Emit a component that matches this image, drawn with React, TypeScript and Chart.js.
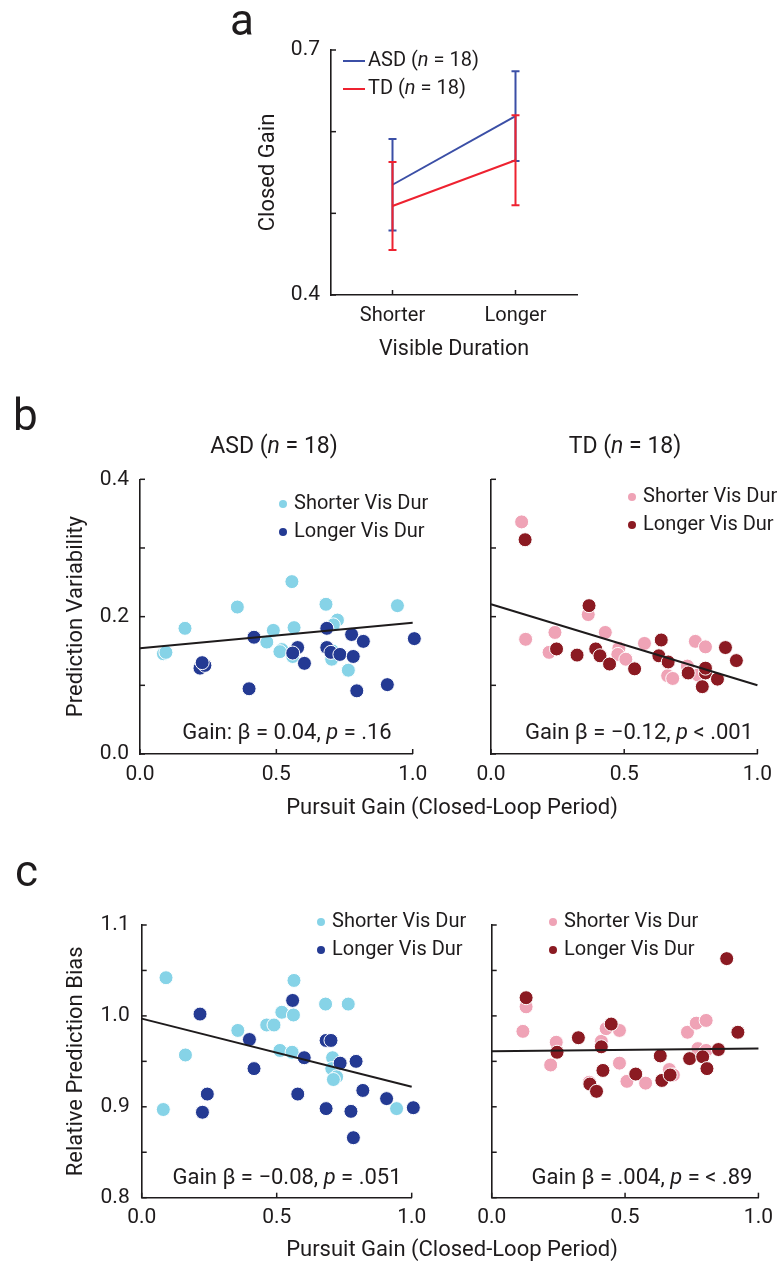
import React, { useEffect, useRef } from "react";
import { Chart, registerables } from "chart.js";
Chart.register(...registerables);

const FONT = "Roboto, 'Liberation Sans', Arial, sans-serif";
const INK = "#1e1b1c";

// ---------- Panel a: closed-loop gain by visible duration ----------
const durationLabels = ["Shorter", "Longer"];
const asdGainMean = [0.535, 0.619];
const asdGainErr = [0.056, 0.055];
const tdGainMean = [0.509, 0.565];
const tdGainErr = [0.054, 0.055];

// ---------- shared x values for regression lines ----------
const fitGain = [0, 1];

// ---------- Panel b: prediction variability vs pursuit gain ----------
const asdVarShorter = [
  [0.086, 0.146], [0.095, 0.148], [0.165, 0.183], [0.357, 0.214], [0.557, 0.251], [0.682, 0.218],
  [0.724, 0.195], [0.709, 0.188], [0.944, 0.216], [0.489, 0.18], [0.565, 0.184], [0.465, 0.163],
  [0.52, 0.152], [0.513, 0.149], [0.56, 0.142], [0.703, 0.138], [0.764, 0.122], [0.706, 0.15],
];
const asdVarLonger = [
  [0.22, 0.125], [0.238, 0.129], [0.228, 0.133], [0.4, 0.095], [0.418, 0.17], [0.578, 0.155],
  [0.56, 0.147], [0.603, 0.132], [0.685, 0.183], [0.685, 0.155], [0.7, 0.148], [0.733, 0.145],
  [0.776, 0.174], [0.819, 0.164], [0.782, 0.142], [0.795, 0.092], [0.907, 0.101], [1.006, 0.168],
];
const asdVarFit = [0.154, 0.191];

const tdVarShorter = [
  [0.115, 0.338], [0.13, 0.167], [0.365, 0.203], [0.24, 0.177], [0.218, 0.148], [0.429, 0.177],
  [0.48, 0.154], [0.476, 0.145], [0.506, 0.138], [0.41, 0.144], [0.576, 0.161], [0.767, 0.164],
  [0.805, 0.156], [0.737, 0.128], [0.8, 0.123], [0.663, 0.114], [0.682, 0.11], [0.777, 0.115],
];
const tdVarLonger = [
  [0.128, 0.312], [0.368, 0.216], [0.246, 0.153], [0.323, 0.144], [0.393, 0.153], [0.409, 0.143],
  [0.445, 0.131], [0.539, 0.124], [0.639, 0.166], [0.63, 0.143], [0.665, 0.134], [0.74, 0.118],
  [0.805, 0.118], [0.793, 0.098], [0.85, 0.109], [0.88, 0.155], [0.921, 0.136], [0.805, 0.125],
];
const tdVarFit = [0.218, 0.1];

// ---------- Panel c: relative prediction bias vs pursuit gain ----------
const asdBiasShorter = [
  [0.09, 1.042], [0.08, 0.897], [0.162, 0.957], [0.356, 0.984], [0.463, 0.99], [0.49, 0.99],
  [0.519, 1.004], [0.562, 1.001], [0.564, 1.039], [0.512, 0.962], [0.557, 0.96], [0.681, 1.013],
  [0.765, 1.013], [0.707, 0.954], [0.704, 0.942], [0.722, 0.933], [0.71, 0.93], [0.944, 0.898],
];
const asdBiasLonger = [
  [0.216, 1.002], [0.243, 0.914], [0.225, 0.894], [0.399, 0.974], [0.416, 0.942], [0.559, 1.017],
  [0.578, 0.914], [0.602, 0.954], [0.683, 0.973], [0.701, 0.973], [0.735, 0.948], [0.794, 0.95],
  [0.683, 0.898], [0.775, 0.895], [0.784, 0.866], [0.819, 0.918], [0.907, 0.909], [1.006, 0.899],
];
const asdBiasFit = [0.997, 0.922];

const tdBiasShorter = [
  [0.129, 1.01], [0.117, 0.983], [0.242, 0.971], [0.221, 0.946], [0.411, 0.972], [0.429, 0.986],
  [0.479, 0.984], [0.479, 0.948], [0.507, 0.928], [0.577, 0.926], [0.366, 0.927], [0.666, 0.941],
  [0.681, 0.935], [0.734, 0.982], [0.767, 0.992], [0.804, 0.995], [0.773, 0.964], [0.804, 0.962],
];
const tdBiasLonger = [
  [0.129, 1.02], [0.245, 0.96], [0.325, 0.976], [0.448, 0.991], [0.411, 0.966], [0.417, 0.94],
  [0.368, 0.925], [0.393, 0.917], [0.54, 0.936], [0.632, 0.956], [0.638, 0.929], [0.669, 0.935],
  [0.742, 0.953], [0.791, 0.955], [0.807, 0.942], [0.85, 0.963], [0.881, 1.063], [0.923, 0.982],
];
const tdBiasFit = [0.961, 0.964];

// ---------- colours ----------
const C = {
  asdLine: "#3b4fa6",
  tdLine: "#ee2230",
  lightBlue: "#86d3e7",
  darkBlue: "#243a93",
  pink: "#efa3b6",
  darkRed: "#8b1a22",
};

Chart.defaults.font.family = FONT;

type Seg = { t: string; i?: boolean };
type RichText = {
  x: number;
  y: number;
  segs: Seg[];
  size: number;
  align?: "left" | "center" | "right";
  rot?: boolean;
  base?: CanvasTextBaseline;
};
type LegendSpec = {
  x: number;
  y: number;
  gap: number;
  kind: "dot" | "line";
  size: number;
  rows: { segs: Seg[]; color: string }[];
};

const fnt = (size: number, italic?: boolean) => `${italic ? "italic " : ""}${size}px ${FONT}`;

function drawRich(ctx: CanvasRenderingContext2D, it: RichText) {
  ctx.save();
  ctx.fillStyle = INK;
  ctx.textBaseline = it.base || "middle";
  ctx.textAlign = "left";
  const widths = it.segs.map((s) => {
    ctx.font = fnt(it.size, s.i);
    return ctx.measureText(s.t).width;
  });
  const total = widths.reduce((a, b) => a + b, 0);
  let x0 = it.align === "center" ? -total / 2 : it.align === "right" ? -total : 0;
  ctx.translate(it.x, it.y);
  if (it.rot) ctx.rotate(-Math.PI / 2);
  it.segs.forEach((s, k) => {
    ctx.font = fnt(it.size, s.i);
    ctx.fillText(s.t, x0, 0);
    x0 += widths[k];
  });
  ctx.restore();
}

function decorPlugin(ox: number, oy: number, texts: RichText[], legend?: LegendSpec) {
  return {
    id: "decor",
    afterDraw(chart: any) {
      const ctx: CanvasRenderingContext2D = chart.ctx;
      const { left, bottom } = chart.chartArea;
      const xs = chart.scales.x;
      const ys = chart.scales.y;
      ctx.save();
      ctx.strokeStyle = INK;
      ctx.lineWidth = 1.5;
      xs.ticks.forEach((_: any, i: number) => {
        const px = xs.getPixelForTick(i);
        ctx.beginPath();
        ctx.moveTo(px, bottom);
        ctx.lineTo(px, bottom - 5);
        ctx.stroke();
      });
      ys.ticks.forEach((_: any, i: number) => {
        const py = ys.getPixelForTick(i);
        ctx.beginPath();
        ctx.moveTo(left, py);
        ctx.lineTo(left + 5, py);
        ctx.stroke();
      });
      ctx.restore();
      if (legend) {
        legend.rows.forEach((r, k) => {
          const y = legend.y - oy + k * legend.gap;
          const x = legend.x - ox;
          ctx.save();
          if (legend.kind === "dot") {
            ctx.fillStyle = r.color;
            ctx.beginPath();
            ctx.arc(x, y, 4, 0, Math.PI * 2);
            ctx.fill();
            drawRich(ctx, { x: x + 11, y, segs: r.segs, size: legend.size });
          } else {
            ctx.strokeStyle = r.color;
            ctx.lineWidth = 2;
            ctx.beginPath();
            ctx.moveTo(x, y);
            ctx.lineTo(x + 22, y);
            ctx.stroke();
            drawRich(ctx, { x: x + 25, y, segs: r.segs, size: legend.size });
          }
          ctx.restore();
        });
      }
      texts.forEach((t) => drawRich(ctx, { ...t, x: t.x - ox, y: t.y - oy }));
    },
  };
}

function errorBarPlugin(groups: { mean: number[]; err: number[]; color: string }[]) {
  return {
    id: "errbars",
    afterDatasetDraw(chart: any, args: any) {
      const g = groups[args.index];
      if (!g) return;
      const ctx: CanvasRenderingContext2D = chart.ctx;
      const xs = chart.scales.x;
      const ys = chart.scales.y;
      ctx.save();
      ctx.strokeStyle = g.color;
      ctx.lineWidth = 2;
      g.mean.forEach((m, i) => {
        const px = xs.getPixelForValue(i);
        const hi = ys.getPixelForValue(m + g.err[i]);
        const lo = ys.getPixelForValue(m - g.err[i]);
        ctx.beginPath();
        ctx.moveTo(px, hi);
        ctx.lineTo(px, lo);
        ctx.moveTo(px - 4, hi);
        ctx.lineTo(px + 4, hi);
        ctx.moveTo(px - 4, lo);
        ctx.lineTo(px + 4, lo);
        ctx.stroke();
      });
      ctx.restore();
    },
  };
}

const nSegs = (name: string): Seg[] => [{ t: name + " (" }, { t: "n", i: true }, { t: " = 18)" }];

function buildPanelA() {
  const ox = 200, oy = 0, w = 400, h = 380;
  const area = { left: 331 - ox, top: 50 - oy, right: 577 - ox, bottom: 295 - oy };
  const XH = 70;
  return {
    type: "line",
    data: {
      labels: durationLabels,
      datasets: [
        { label: "ASD", data: asdGainMean, borderColor: C.asdLine, borderWidth: 2, pointRadius: 0, order: 1, clip: false },
        { label: "TD", data: tdGainMean, borderColor: C.tdLine, borderWidth: 2, pointRadius: 0, order: 0, clip: false },
      ],
    },
    options: {
      responsive: false,
      animation: false,
      events: [],
      layout: { padding: { left: 0, top: area.top, right: w - area.right, bottom: h - area.bottom - XH } },
      plugins: { legend: { display: false }, tooltip: { enabled: false } },
      scales: {
        x: {
          type: "category",
          offset: true,
          afterFit: (s: any) => { s.height = XH; },
          grid: { display: false, drawTicks: false },
          border: { display: true, color: INK, width: 1.6 },
          ticks: { padding: 8.5, color: INK, font: { size: 20 }, maxRotation: 0 },
          title: { display: true, text: "Visible Duration", color: INK, font: { size: 21.5 }, padding: { top: 0, bottom: 2 } },
        },
        y: {
          type: "linear",
          min: 0.4,
          max: 0.7,
          afterFit: (s: any) => { s.width = area.left; },
          grid: { display: false, drawTicks: false },
          border: { display: true, color: INK, width: 1.6 },
          ticks: {
            stepSize: 0.1,
            padding: 11,
            color: INK,
            font: { size: 21 },
            callback: (v: any) => (Math.abs(v - 0.4) < 1e-6 || Math.abs(v - 0.7) < 1e-6 ? Number(v).toFixed(1) : ""),
          },
          title: { display: true, text: "Closed Gain", color: INK, font: { size: 22 }, padding: { top: 55, bottom: 0 } },
        },
      },
    },
    plugins: [
      errorBarPlugin([
        { mean: asdGainMean, err: asdGainErr, color: C.asdLine },
        { mean: tdGainMean, err: tdGainErr, color: C.tdLine },
      ]),
      decorPlugin(ox, oy, [{ x: 230, y: 35, segs: [{ t: "a" }], size: 44, base: "alphabetic" }], {
        x: 343,
        y: 61,
        gap: 28,
        kind: "line",
        size: 20,
        rows: [
          { segs: nSegs("ASD"), color: C.asdLine },
          { segs: nSegs("TD"), color: C.tdLine },
        ],
      }),
    ],
  };
}

type ScatterSpec = {
  ox: number; oy: number; w: number; h: number;
  area: { left: number; top: number; right: number; bottom: number };
  shorter: number[][]; longer: number[][]; fit: number[];
  colS: string; colL: string;
  yMin: number; yMax: number; yStep: number; yLabelStep: number;
  showY: boolean; yTitle?: string;
  yLabelPad: number; xLabelPad: number;
  legendX: number; legendY: number;
  texts: RichText[];
};

function buildScatter(s: ScatterSpec) {
  const a = { left: s.area.left - s.ox, top: s.area.top - s.oy, right: s.area.right - s.ox, bottom: s.area.bottom - s.oy };
  const XH = 30;
  const pts = (arr: number[][]) => arr.map(([x, y]) => ({ x, y }));
  return {
    type: "scatter",
    data: {
      datasets: [
        {
          label: "fit",
          data: fitGain.map((x, i) => ({ x, y: s.fit[i] })),
          showLine: true,
          borderColor: INK,
          borderWidth: 2,
          pointRadius: 0,
          clip: false,
        },
        { label: "Longer Vis Dur", data: pts(s.longer), backgroundColor: s.colL, borderColor: "#ffffff", borderWidth: 1, pointRadius: 7, clip: false },
        { label: "Shorter Vis Dur", data: pts(s.shorter), backgroundColor: s.colS, borderColor: "#ffffff", borderWidth: 1, pointRadius: 7, clip: false },
      ],
    },
    options: {
      responsive: false,
      animation: false,
      events: [],
      layout: { padding: { left: 0, top: a.top, right: s.w - a.right, bottom: s.h - a.bottom - XH } },
      plugins: { legend: { display: false }, tooltip: { enabled: false } },
      scales: {
        x: {
          type: "linear",
          min: 0,
          max: 1,
          afterFit: (sc: any) => { sc.height = XH; },
          grid: { display: false, drawTicks: false },
          border: { display: true, color: INK, width: 1.6 },
          ticks: { stepSize: 0.5, padding: s.xLabelPad, color: INK, font: { size: 21 }, maxRotation: 0, autoSkip: false, callback: (v: any) => Number(v).toFixed(1) },
        },
        y: {
          type: "linear",
          min: s.yMin,
          max: s.yMax,
          afterFit: (sc: any) => { sc.width = a.left; },
          grid: { display: false, drawTicks: false },
          border: { display: true, color: INK, width: 1.6 },
          ticks: {
            display: s.showY,
            stepSize: s.yStep,
            padding: s.yLabelPad,
            color: INK,
            font: { size: 21 },
            callback: (v: any) => {
              const q = v / s.yLabelStep;
              return Math.abs(q - Math.round(q)) < 1e-6 ? Number(v).toFixed(1) : "";
            },
          },
          title: s.yTitle
            ? { display: true, text: s.yTitle, color: INK, font: { size: 22 }, padding: { top: 63, bottom: 0 } }
            : { display: false },
        },
      },
    },
    plugins: [
      decorPlugin(s.ox, s.oy, s.texts, {
        x: s.legendX,
        y: s.legendY,
        gap: 28,
        kind: "dot",
        size: 20,
        rows: [
          { segs: [{ t: "Shorter Vis Dur" }], color: s.colS },
          { segs: [{ t: "Longer Vis Dur" }], color: s.colL },
        ],
      }),
    ],
  };
}

const xTitle = (y: number): RichText => ({ x: 452, y, segs: [{ t: "Pursuit Gain (Closed-Loop Period)" }], size: 22, align: "center" });

const buildBL = () =>
  buildScatter({
    ox: 0, oy: 390, w: 640, h: 440,
    area: { left: 140, top: 479.3, right: 412.7, bottom: 754 },
    shorter: asdVarShorter, longer: asdVarLonger, fit: asdVarFit,
    colS: C.lightBlue, colL: C.darkBlue,
    yMin: 0, yMax: 0.4, yStep: 0.1, yLabelStep: 0.2,
    showY: true, yTitle: "Prediction Variability",
    yLabelPad: 11, xLabelPad: 8,
    legendX: 283, legendY: 504,
    texts: [
      { x: 13, y: 430, segs: [{ t: "b" }], size: 44, base: "alphabetic" },
      { x: 274, y: 447, segs: nSegs("ASD"), size: 23, align: "center" },
      { x: 287, y: 733, segs: [{ t: "Gain: β = 0.04, " }, { t: "p", i: true }, { t: " = .16" }], size: 22, align: "center" },
      xTitle(808),
    ],
  });

const buildBR = () =>
  buildScatter({
    ox: 430, oy: 390, w: 350, h: 440,
    area: { left: 491, top: 479.3, right: 764, bottom: 754 },
    shorter: tdVarShorter, longer: tdVarLonger, fit: tdVarFit,
    colS: C.pink, colL: C.darkRed,
    yMin: 0, yMax: 0.4, yStep: 0.1, yLabelStep: 0.2,
    showY: false,
    yLabelPad: 11, xLabelPad: 8,
    legendX: 632, legendY: 497,
    texts: [
      { x: 625, y: 447, segs: nSegs("TD"), size: 23, align: "center" },
      { x: 639, y: 733, segs: [{ t: "Gain β = −0.12, " }, { t: "p", i: true }, { t: " < .001" }], size: 22, align: "center" },
    ],
  });

const buildCL = () =>
  buildScatter({
    ox: 0, oy: 850, w: 640, h: 414,
    area: { left: 141.7, top: 925, right: 411.7, bottom: 1197.7 },
    shorter: asdBiasShorter, longer: asdBiasLonger, fit: asdBiasFit,
    colS: C.lightBlue, colL: C.darkBlue,
    yMin: 0.8, yMax: 1.1, yStep: 0.05, yLabelStep: 0.1,
    showY: true, yTitle: "Relative Prediction Bias",
    yLabelPad: 12, xLabelPad: 7,
    legendX: 321, legendY: 922,
    texts: [
      { x: 15, y: 886, segs: [{ t: "c" }], size: 44, base: "alphabetic" },
      { x: 287, y: 1178, segs: [{ t: "Gain β = −0.08, " }, { t: "p", i: true }, { t: " = .051" }], size: 22, align: "center" },
      xTitle(1250),
    ],
  });

const buildCR = () =>
  buildScatter({
    ox: 430, oy: 850, w: 350, h: 414,
    area: { left: 491.7, top: 925, right: 763, bottom: 1197.7 },
    shorter: tdBiasShorter, longer: tdBiasLonger, fit: tdBiasFit,
    colS: C.pink, colL: C.darkRed,
    yMin: 0.8, yMax: 1.1, yStep: 0.05, yLabelStep: 0.1,
    showY: false,
    yLabelPad: 12, xLabelPad: 7,
    legendX: 553, legendY: 922,
    texts: [
      { x: 642, y: 1178, segs: [{ t: "Gain β = .004, " }, { t: "p", i: true }, { t: " = < .89" }], size: 22, align: "center" },
    ],
  });

function ChartCanvas(props: { left: number; top: number; width: number; height: number; build: () => any }) {
  const ref = useRef<HTMLCanvasElement>(null);
  useEffect(() => {
    const chart = new Chart(ref.current as HTMLCanvasElement, props.build());
    return () => chart.destroy();
  }, []);
  return (
    <canvas
      ref={ref}
      width={props.width}
      height={props.height}
      style={{ position: "absolute", left: props.left, top: props.top, width: props.width, height: props.height }}
    />
  );
}

export default function App() {
  return (
    <div style={{ position: "absolute", left: 0, top: 0, width: 780, height: 1264, background: "#ffffff", overflow: "hidden" }}>
      <ChartCanvas left={200} top={0} width={400} height={380} build={buildPanelA} />
      <ChartCanvas left={0} top={390} width={640} height={440} build={buildBL} />
      <ChartCanvas left={430} top={390} width={350} height={440} build={buildBR} />
      <ChartCanvas left={0} top={850} width={640} height={414} build={buildCL} />
      <ChartCanvas left={430} top={850} width={350} height={414} build={buildCR} />
    </div>
  );
}
